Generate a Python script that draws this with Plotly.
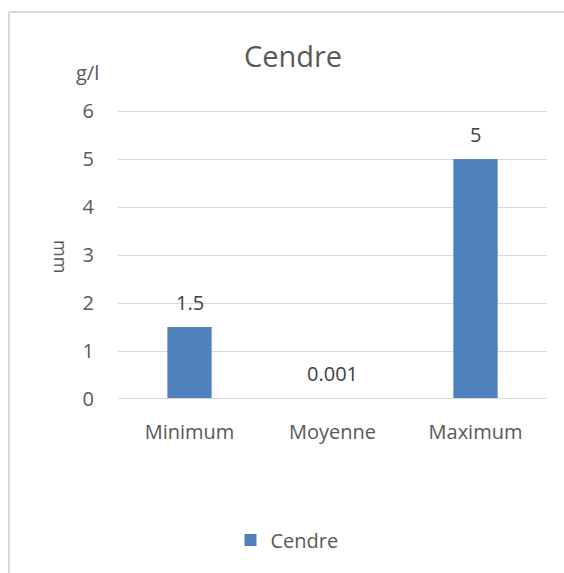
import plotly.graph_objects as go

categories = ["Minimum", "Moyenne", "Maximum"]
values = [1.5, 0.001, 5]
labels = ["1.5", "0.001", "5"]
y_ticks = [0, 1, 2, 3, 4, 5, 6]

W, H = 564, 573
L, R, T, B = 118, 17, 109, 174
pw, ph = W - L - R, H - T - B
y_top = 6 + 2 / 48  # a little headroom so the top gridline is kept

def px_x(px):
    return (px - L) / pw

def px_y(py):
    return (H - B - py) / ph

font = "Open Sans, Noto Sans, sans-serif"
grey = "#595959"
rule = "#d9d9d9"

fig = go.Figure()
fig.add_trace(go.Bar(
    x=categories, y=values, name="Cendre",
    marker=dict(color="#4f81bd", line=dict(width=0)),
    width=0.31,
))

# value labels above each bar
for cat, val, lab in zip(categories, values, labels):
    fig.add_annotation(x=cat, y=val, text=lab, showarrow=False,
                       xanchor="center", yanchor="middle", yshift=25,
                       font=dict(size=20, color="#404040", family=font))

fig.update_layout(
    width=W, height=H,
    margin=dict(l=L, r=R, t=T, b=B, pad=0),
    paper_bgcolor="white", plot_bgcolor="white",
    font=dict(family=font, color=grey, size=20),
    bargap=0.69,
    showlegend=True,
    legend=dict(orientation="h", x=px_x(287), xanchor="center",
                y=px_y(540), yanchor="middle", itemwidth=30,
                font=dict(size=20, color=grey, family=font)),
    title=dict(text="Cendre", x=293 / W, xanchor="center",
               y=1 - 57 / H, yanchor="middle",
               font=dict(size=29, color=grey, family=font)),
    xaxis=dict(showgrid=False, showline=False, ticks="",
               tickfont=dict(size=20, color=grey),
               ticklabelstandoff=19),
    yaxis=dict(range=[0, y_top], tickvals=y_ticks, showgrid=True,
               gridcolor=rule, gridwidth=1, zeroline=False,
               showline=False, ticks="", tickfont=dict(size=20, color=grey),
               ticklabelstandoff=23),
)

# horizontal category axis line, drawn over the bars
fig.add_shape(type="line", xref="paper", yref="y", ysizemode="pixel", yanchor=0,
              x0=0, x1=1, y0=0.5, y1=0.5, layer="above",
              line=dict(color=rule, width=1))

fig.add_annotation(text="g/l", x=px_x(87), y=px_y(72), xref="paper", yref="paper",
                   xanchor="center", yanchor="middle", showarrow=False,
                   font=dict(size=20, color=grey, family=font))
fig.add_annotation(text="mm", x=px_x(61), y=px_y(256), xref="paper", yref="paper",
                   xanchor="center", yanchor="middle", showarrow=False, textangle=90,
                   font=dict(size=18, color=grey, family=font))

# chart frame
fig.add_shape(type="line", xref="paper", yref="paper",
              x0=px_x(9), x1=px_x(564), y0=px_y(12), y1=px_y(12),
              line=dict(color=rule, width=2))
fig.add_shape(type="line", xref="paper", yref="paper",
              x0=px_x(9), x1=px_x(9), y0=px_y(12), y1=px_y(573),
              line=dict(color=rule, width=2))

fig.write_html("out.html")
